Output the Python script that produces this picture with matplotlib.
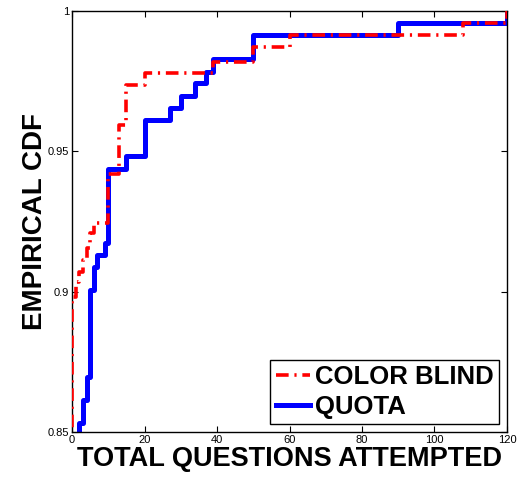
import matplotlib
matplotlib.use("Agg")
import matplotlib.pyplot as plt

plt.rcParams['font.family'] = ['Liberation Sans', 'DejaVu Sans']

# COLOR BLIND: step positions and CDF value after each step
cb_x = [0, 1, 2, 3, 4, 5, 6, 10, 13, 15, 20, 39, 50, 60, 108, 120]
cb_y = [0.898, 0.9035, 0.907, 0.9113, 0.9155, 0.9209, 0.9246, 0.942, 0.9594,
        0.9736, 0.978, 0.982, 0.987, 0.9914, 0.9958, 1.0]

# QUOTA
q_x = [2, 3, 4, 5, 6, 7, 9, 10, 15, 20, 27, 30, 34, 37, 39, 50, 90, 120]
q_y = [0.8531, 0.8614, 0.8697, 0.9006, 0.9089, 0.9131, 0.9174, 0.9436, 0.9483,
       0.9611, 0.9653, 0.9697, 0.9742, 0.9784, 0.9828, 0.9914, 0.9958, 1.0]

xticks = [0, 20, 40, 60, 80, 100, 120]
yticks = [0.85, 0.9, 0.95, 1.0]
yticklabels = ['0.85', '0.9', '0.95', '1']

fig = plt.figure(figsize=(5.18, 4.79), dpi=100)
ax = fig.add_axes([72/518, 1-432/479, (507-72)/518, (432-11)/479])

# prepend starting points below the axis for the vertical rises
cbx = [cb_x[0]] + cb_x
cby = [0.80] + cb_y
qx = [q_x[0]] + q_x
qy = [0.80] + q_y

ax.step(cbx, cby, where='post', color='#ff0000', lw=2.6,
        linestyle=(0, (3.5, 1.6, 0.6, 1.6)), label='COLOR BLIND', zorder=3)
ax.step(qx, qy, where='post', color='#0000ff', lw=3.6, label='QUOTA', zorder=2)

ax.set_xlim(0, 120)
ax.set_ylim(0.85, 1.0)
ax.set_xticks(xticks)
ax.set_xticklabels([str(v) for v in xticks])
ax.set_yticks(yticks)
ax.set_yticklabels(yticklabels)
ax.tick_params(direction='in', top=True, right=True, labelsize=8, length=4, width=0.8, pad=2)
for s in ax.spines.values():
    s.set_linewidth(1.0)

ax.set_xlabel('TOTAL QUESTIONS ATTEMPTED', fontsize=19.5, fontweight='bold', labelpad=1)
ax.set_ylabel('EMPIRICAL CDF', fontsize=20, fontweight='bold', labelpad=0)

leg = ax.legend(loc='lower right', prop={'weight': 'bold', 'size': 18.5},
                fancybox=False, framealpha=1, edgecolor='black', handlelength=1.35,
                handletextpad=0.2, borderpad=0.2, labelspacing=0.25,
                borderaxespad=0.3)
leg.get_frame().set_linewidth(1.0)

fig.savefig('out.png', dpi=100)
